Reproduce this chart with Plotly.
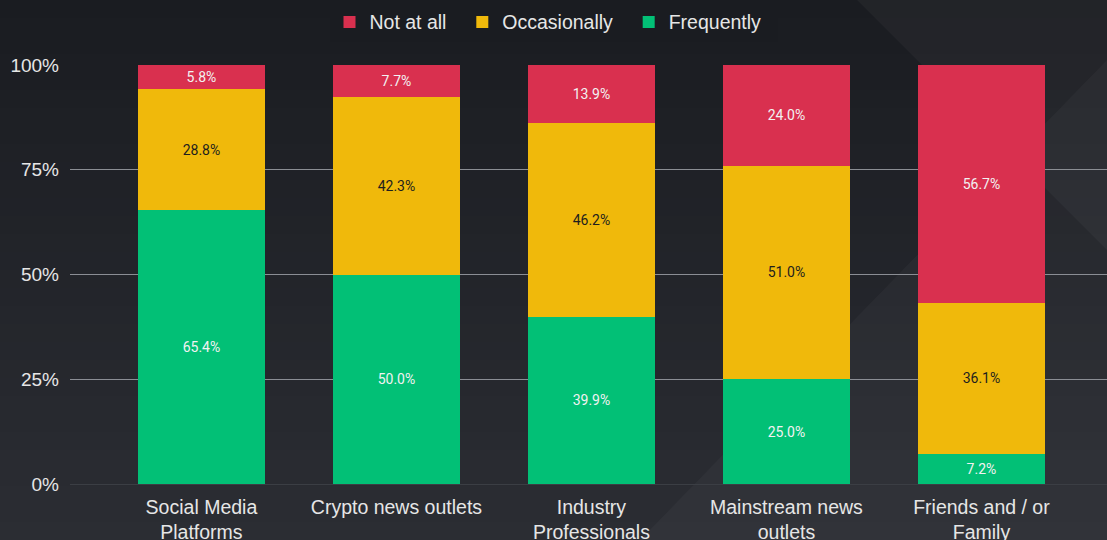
import plotly.graph_objects as go

categories = [
    "Social Media<br>Platforms",
    "Crypto news outlets",
    "Industry<br>Professionals",
    "Mainstream news<br>outlets",
    "Friends and / or<br>Family",
]
frequently = [65.4, 50.0, 39.9, 25.0, 7.2]
occasionally = [28.8, 42.3, 46.2, 51.0, 36.1]
not_at_all = [5.8, 7.7, 13.9, 24.0, 56.7]

y_ticks = [0, 25, 50, 75, 100]
y_tick_text = ["0%", "25%", "50%", "75%", "100%"]

W, H = 1107, 540
L, R, T, B = 70, 0, 65, 56
PW, PH = W - L - R, H - T - B


def px2paper(x, y):
    return (x - L) / PW, (H - B - y) / PH


def path(points):
    pts = [px2paper(x, y) for x, y in points]
    return "M " + " L ".join(f"{x:.4f},{y:.4f}" for x, y in pts) + " Z"


fig = go.Figure()

pad = "\u00a0\u00a0"
series = [
    ("Frequently", frequently, "#02c076", "#f2f2f2"),
    ("Occasionally", occasionally, "#f0b90b", "#1e1e1e"),
    ("Not at all", not_at_all, "#d9304f", "#f2f2f2"),
]
for name, vals, color, tcolor in series:
    fig.add_trace(go.Bar(
        x=categories, y=vals, name=name + pad,
        marker=dict(color=color, line=dict(width=0)),
        texttemplate="%{y:.1f}%", textposition="inside",
        insidetextanchor="middle", constraintext="none",
        textfont=dict(family="Roboto", size=14, color=tcolor),
        hoverinfo="skip",
    ))

# background: vertical gradient bands and soft diagonal facets
shapes = []
top, bot = (26, 28, 33), (43, 45, 51)
n = 30
for i in range(n):
    t = i / (n - 1)
    c = tuple(round(top[k] + (bot[k] - top[k]) * t) for k in range(3))
    y0, y1 = H * i / n, H * (i + 1) / n + 1
    shapes.append(dict(type="path", xref="paper", yref="paper", layer="below",
                       path=path([(0, y0), (W, y0), (W, y1), (0, y1)]),
                       fillcolor=f"rgb{c}", line=dict(width=0)))
shapes.append(dict(type="path", xref="paper", yref="paper", layer="below",
                   path=path([(857, 0), (W, 0), (W, 250)]),
                   fillcolor="rgba(255,255,255,0.035)", line=dict(width=0)))
shapes.append(dict(type="path", xref="paper", yref="paper", layer="below",
                   path=path([(640, H), (W, H), (W, 60)]),
                   fillcolor="rgba(255,255,255,0.03)", line=dict(width=0)))

fig.update_layout(
    width=W, height=H,
    barmode="stack", bargap=0.349,
    margin=dict(l=L, r=R, t=T, b=B, pad=0, autoexpand=False),
    paper_bgcolor="#1a1c21", plot_bgcolor="rgba(0,0,0,0)",
    font=dict(family="Liberation Sans, Arial", color="#e6e6e6", size=18),
    shapes=shapes,
    legend=dict(orientation="h", traceorder="reversed",
                xref="container", yref="container",
                x=0.5, xanchor="center", y=0.995, yanchor="top",
                font=dict(size=19.5, color="#e6e6e6"), itemwidth=30),
    xaxis=dict(range=[-0.674, 4.644], showgrid=False, showline=False,
               zeroline=False, ticks="", tickfont=dict(size=19.5),
               ticklabelstandoff=9, automargin=False),
    yaxis=dict(range=[0, 100], tickmode="array", tickvals=y_ticks,
               ticktext=y_tick_text,
               showgrid=True, gridcolor="#8b8e94", gridwidth=1,
               zeroline=True, zerolinecolor="#3b3e44", zerolinewidth=1,
               ticks="", tickfont=dict(size=19), ticklabelstandoff=10,
               automargin=False),
    hovermode=False,
)

fig.write_html(
    "out.html",
    config={"displayModeBar": False},
    post_script="document.body.style.margin='0';document.body.style.padding='0';",
)
